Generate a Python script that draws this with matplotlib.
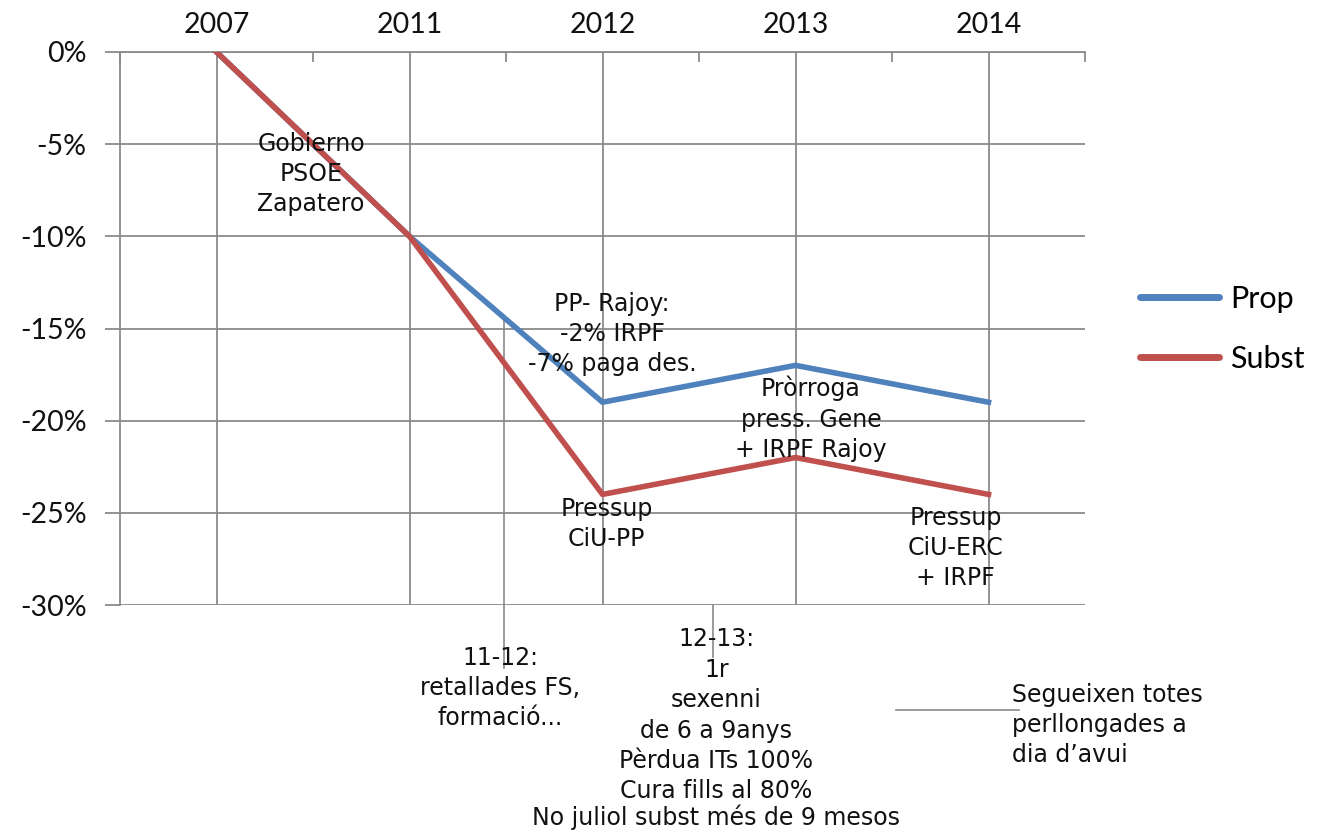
import matplotlib.pyplot as plt
from matplotlib.ticker import FuncFormatter, MultipleLocator

years = ['2007', '2011', '2012', '2013', '2014']
prop = [0, -10, -19, -17, -19]
subst = [0, -10, -24, -22, -24]

# notes placed on the chart: (text, x, y, horizontal alignment)
notes = [
    ("Gobierno\nPSOE\nZapatero", 0.49, -6.6, 'center'),
    ("PP- Rajoy:\n-2% IRPF\n-7% paga des.", 2.05, -15.3, 'center'),
    ("Pròrroga\npress. Gene\n+ IRPF Rajoy", 3.08, -19.9, 'center'),
    ("Pressup\nCiU-PP", 2.02, -25.6, 'center'),
    ("Pressup\nCiU-ERC\n+ IRPF", 3.83, -26.9, 'center'),
    ("11-12:\nretallades FS,\nformació...", 1.47, -34.5, 'center'),
    ("12-13:\n1r\nsexenni", 2.59, -33.5, 'center'),
    ("de 6 a 9anys\nPèrdua ITs 100%\nCura fills al 80%", 2.59, -38.45, 'center'),
    ("No juliol subst més de 9 mesos", 2.59, -41.5, 'center'),
    ("Segueixen totes\nperllongades a\ndia d’avui", 4.12, -36.5, 'left'),
]

grey = '#8a8a8a'
x = list(range(len(years)))

fig = plt.figure(figsize=(13.2, 8.32), dpi=100)
ax = fig.add_axes([120/1320, 1-605/832, 965/1320, 553/832])

ax.plot(x, prop, color='#4F81BD', lw=4, label='Prop', zorder=3)
ax.plot(x, subst, color='#C0504D', lw=4, label='Subst', zorder=3)

ax.set_xlim(-0.5, 4.5)
ax.set_ylim(-30, 0)
ax.set_xticks(x)
ax.set_xticklabels(years)
ax.set_xticks([i + 0.5 for i in range(-1, 5)], minor=True)
ax.yaxis.set_major_locator(MultipleLocator(5))
ax.yaxis.set_major_formatter(FuncFormatter(lambda v, p: '%d%%' % v))

ax.xaxis.tick_top()
ax.tick_params(axis='x', which='major', length=0, pad=10, labelsize=20.5, labelcolor='#111111')
ax.tick_params(axis='x', which='minor', direction='in', length=7, width=1.3, color=grey)
ax.tick_params(axis='y', direction='out', length=11, width=1.3, color=grey, pad=13,
               labelsize=20.5, labelcolor='#111111')
for lab in ax.get_xticklabels() + ax.get_yticklabels():
    lab.set_family('Lato')

ax.grid(True, which='major', color=grey, lw=1.3)
ax.set_axisbelow(True)
for s in ['right', 'bottom']:
    ax.spines[s].set_visible(False)
for s in ['top', 'left']:
    ax.spines[s].set_color(grey)
    ax.spines[s].set_linewidth(1.3)

for txt, tx, ty, ha in notes:
    ax.text(tx, ty, txt, ha=ha, va='center', fontsize=17, family='DejaVu Sans',
            linespacing=1.32, color='#111111', clip_on=False, zorder=4)

# pointer lines for the notes below the axis
ax.plot([1.49, 1.49], [-14.3, -33.4], color=grey, lw=1.2, clip_on=False, zorder=1)
ax.plot([2.57, 2.57], [-30, -32.8], color=grey, lw=1.2, clip_on=False, zorder=1)
ax.plot([3.52, 4.16], [-35.7, -35.7], color=grey, lw=1.2, clip_on=False, zorder=1)

leg = fig.legend(loc='center left', bbox_to_anchor=(1140/1320, 1-329/832), frameon=False,
                 borderpad=0, borderaxespad=0, handlelength=2.6, handletextpad=0.35,
                 labelspacing=1.05, prop={'family': 'Lato', 'size': 22})
for h in leg.get_lines():
    h.set_linewidth(5)
    h.set_solid_capstyle('round')

plt.savefig('out.png', dpi=100)
